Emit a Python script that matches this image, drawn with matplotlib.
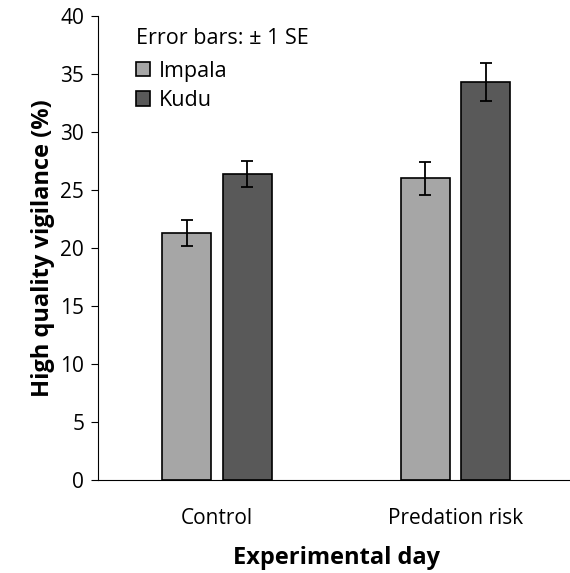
import numpy as np
from matplotlib import pyplot as plt

plt.rcParams['font.family'] = ['Open Sans', 'DejaVu Sans']

categories = ['Control', 'Predation risk']
species = ['Impala', 'Kudu']
impala = [21.3, 26.0]
kudu = [26.4, 34.3]
impala_se = [1.1, 1.4]
kudu_se = [1.15, 1.65]
colors = ['#a6a6a6', '#595959']

fig = plt.figure(figsize=(5.7, 5.73), dpi=100)
ax = fig.add_axes([0.172, 0.162, 0.836, 0.81])

x = np.arange(len(categories))
width = 0.205
offset = 0.127

for vals, se, col, name, dx in [
    (impala, impala_se, colors[0], species[0], -offset),
    (kudu, kudu_se, colors[1], species[1], offset),
]:
    ax.bar(x + dx, vals, width, color=col, edgecolor='black', linewidth=1.2,
           label=name, yerr=se,
           error_kw=dict(ecolor='black', elinewidth=1.3, capsize=4, capthick=1.3))

ax.set_xlim(-0.5, 1.5)
ax.set_ylim(0, 40)
ax.set_yticks(range(0, 41, 5))
ax.set_xticks(x)
ax.set_xticklabels(categories)
ax.tick_params(axis='x', length=0, pad=20, labelsize=15)
ax.tick_params(axis='y', direction='out', length=5, labelsize=15, pad=5)
ax.spines['top'].set_visible(False)
ax.spines['right'].set_visible(False)
ax.set_ylabel('High quality vigilance (%)', fontsize=17, fontweight='bold', labelpad=4)
ax.set_xlabel('Experimental day', fontsize=17, fontweight='bold', labelpad=12)

leg = ax.legend(loc='upper left', bbox_to_anchor=(0.04, 1.015), frameon=False,
                title='Error bars: ± 1 SE', fontsize=15.5, title_fontsize=15.5,
                handlelength=0.65, handleheight=0.65, handletextpad=0.4,
                labelspacing=0.4, alignment='left')
leg._legend_box.sep = 8

plt.savefig('out.png')
